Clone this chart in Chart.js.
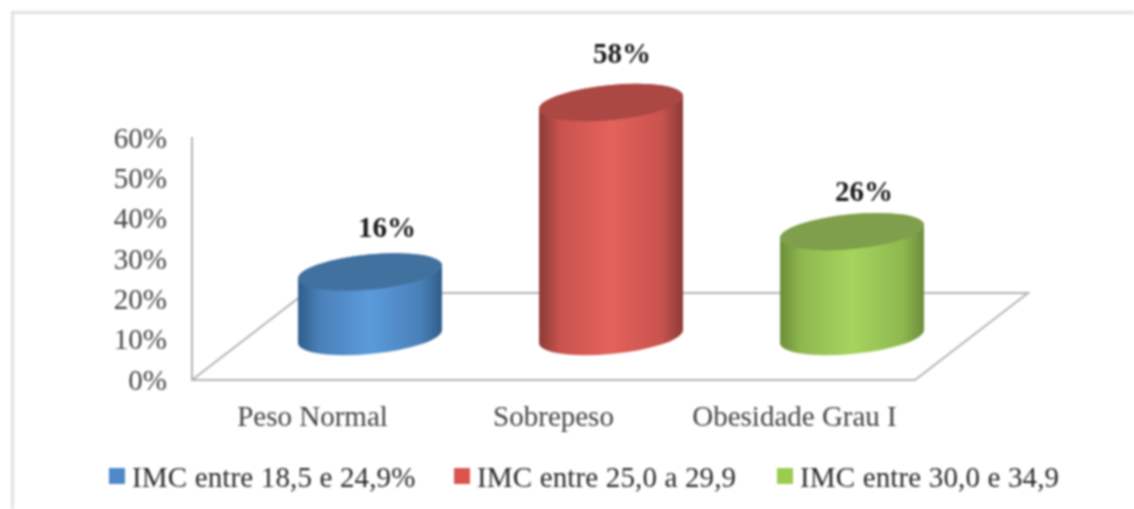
<!DOCTYPE html>
<html>
<head>
<meta charset="utf-8">
<title>IMC</title>
<script src="https://cdn.jsdelivr.net/npm/chart.js@4"></script>
<style>
  html, body { margin: 0; padding: 0; background: #fff; }
  #wrap { position: relative; width: 1134px; height: 509px; overflow: hidden; filter: blur(0.9px); }
  #frame { position: absolute; left: 11px; top: 11px; width: 1123px; height: 498px; border-left: 3px solid #e2e2e2; border-top: 3px solid #e2e2e2; box-sizing: border-box; }
  #chart { position: absolute; left: 0; top: 0; }
  #legend { position: absolute; left: 0; top: 458px; height: 40px; font: 29px "Liberation Serif", serif; letter-spacing: 0.15px; color: #2a2a2a; white-space: nowrap; }
  #legend span { position: absolute; top: 0; line-height: 38px; }
  #legend i { position: absolute; top: 10px; width: 16px; height: 16px; }
</style>
</head>
<body>
<div id="wrap">
  <div id="frame"></div>
  <canvas id="chart" width="1134" height="509"></canvas>
  <div id="legend"></div>
</div>
<script>
const categories = ["Peso Normal", "Sobrepeso", "Obesidade Grau I"];
const values = [16, 58, 26];
const seriesNames = ["IMC entre 18,5 e 24,9%", "IMC entre 25,0 a 29,9", "IMC entre 30,0 e 34,9"];
const yTicks = [0, 10, 20, 30, 40, 50, 60];

const legendColors = ["#4f88c6", "#d9534f", "#9bcb50"];
// edge, shoulder, middle, lid
const cylinderColors = [
  ["#2f5c8a", "#4a80b8", "#5a9bdc", "#41719f"],
  ["#8a3a36", "#c9534e", "#e4625b", "#ab4844"],
  ["#6b8c3a", "#8fb84f", "#a5d55e", "#7f9f4c"]
];
const depthX = 113, depthY = 87;   // floor depth
const labelShiftX = [17, 11, 12];
const labelShiftY = [-42, -47, -38];

// floor of the 3D box
const floorPlugin = {
  id: "floor",
  beforeDatasetsDraw(chart) {
    const { left, right, bottom } = chart.chartArea;
    const ctx = chart.ctx;
    ctx.save();
    ctx.strokeStyle = "#b4b4b4";
    ctx.lineWidth = 2;
    ctx.beginPath();
    ctx.moveTo(left, bottom);
    ctx.lineTo(left + depthX, bottom - depthY);
    ctx.lineTo(right + depthX, bottom - depthY);
    ctx.lineTo(right, bottom);
    ctx.stroke();
    ctx.restore();
  }
};

// cylinders drawn on the bar elements
const cylinderPlugin = {
  id: "cylinders",
  afterDatasetsDraw(chart) {
    const ctx = chart.ctx;
    const y = chart.scales.y;
    const rot = -5.5 * Math.PI / 180, ry = 17.5;
    chart.getDatasetMeta(0).data.forEach((bar, i) => {
      const rx = bar.width / 2;
      const cx = bar.x + depthX / 2 + 1;
      const topY = bar.y - depthY / 2;
      const baseY = y.getPixelForValue(0) - depthY / 2;
      // angle of the right tangent of the tilted ellipse
      const t0 = Math.atan2(-ry * Math.sin(rot), rx * Math.cos(rot));
      const c = cylinderColors[i];

      const grad = ctx.createLinearGradient(cx - rx, 0, cx + rx, 0);
      grad.addColorStop(0, c[0]);
      grad.addColorStop(0.15, c[1]);
      grad.addColorStop(0.5, c[2]);
      grad.addColorStop(0.85, c[1]);
      grad.addColorStop(1, c[0]);

      ctx.save();
      ctx.fillStyle = grad;
      ctx.beginPath();
      ctx.ellipse(cx, baseY, rx, ry, rot, t0, t0 + Math.PI);
      ctx.ellipse(cx, topY, rx, ry, rot, t0 + Math.PI, t0 + 2 * Math.PI);
      ctx.closePath();
      ctx.fill();

      ctx.fillStyle = c[3];
      ctx.beginPath();
      ctx.ellipse(cx, topY, rx, ry, rot, 0, 2 * Math.PI);
      ctx.fill();

      ctx.fillStyle = "#1a1a1a";
      ctx.font = 'bold 29px "Liberation Serif", serif';
      ctx.textAlign = "center";
      ctx.textBaseline = "middle";
      ctx.fillText(values[i] + "%", cx + labelShiftX[i], topY + labelShiftY[i]);
      ctx.restore();
    });
  }
};

new Chart(document.getElementById("chart"), {
  type: "bar",
  data: {
    labels: categories,
    datasets: [{
      data: values,
      backgroundColor: "rgba(0,0,0,0)",
      barPercentage: 0.6,
      categoryPercentage: 1
    }]
  },
  plugins: [floorPlugin, cylinderPlugin],
  options: {
    responsive: false,
    animation: false,
    layout: { padding: { top: 138, left: 32, right: 219, bottom: 59 } },
    plugins: { legend: { display: false }, tooltip: { enabled: false } },
    scales: {
      x: {
        afterFit(scale) { scale.height = 70; },
        grid: { display: false },
        border: { color: "#b4b4b4", width: 2 },
        ticks: {
          color: "#444",
          padding: 13,
          maxRotation: 0,
          autoSkip: false,
          font: { family: '"Liberation Serif", serif', size: 29 }
        }
      },
      y: {
        min: yTicks[0],
        max: yTicks[yTicks.length - 1],
        afterFit(scale) { scale.width = 160; },
        afterBuildTicks(scale) { scale.ticks = yTicks.map(v => ({ value: v })); },
        grid: { display: false },
        border: { color: "#b4b4b4", width: 2 },
        ticks: {
          color: "#444",
          padding: 17,
          labelOffset: 2,
          callback: v => v + "%",
          font: { family: '"Liberation Serif", serif', size: 29 }
        }
      }
    }
  }
});

// legend as html, one entry per series
const legend = document.getElementById("legend");
const legendBoxX = [109, 454, 777];
seriesNames.forEach((name, i) => {
  const box = document.createElement("i");
  box.style.left = legendBoxX[i] + "px";
  box.style.background = legendColors[i];
  const text = document.createElement("span");
  text.style.left = (legendBoxX[i] + 23) + "px";
  text.textContent = name;
  legend.appendChild(box);
  legend.appendChild(text);
});
</script>
</body>
</html>
